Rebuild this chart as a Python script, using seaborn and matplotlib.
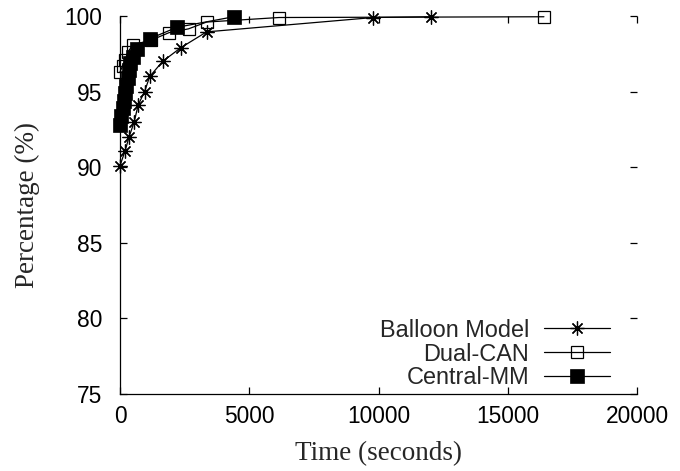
import matplotlib
matplotlib.use("Agg")
import matplotlib.pyplot as plt
import seaborn as sns
import pandas as pd

# Data
balloon_x = [0, 200, 350, 550, 700, 950, 1150, 1650, 2350, 3350, 9800, 12050]
balloon_y = [90.1, 91.1, 92.0, 93.0, 94.1, 95.0, 96.0, 97.0, 97.9, 98.95, 99.9, 99.95]

dualcan_x = [0, 100, 200, 300, 500, 1200, 1900, 2650, 3350, 6150, 16400]
dualcan_y = [96.3, 96.7, 97.1, 97.6, 98.1, 98.4, 98.9, 99.15, 99.6, 99.9, 99.95]

central_x = [0, 50, 100, 150, 200, 250, 300, 350, 400, 500, 650, 1150, 2200, 4400]
central_y = [92.8, 93.4, 93.9, 94.4, 94.9, 95.4, 95.9, 96.4, 96.9, 97.3, 97.8, 98.5, 99.25, 99.95]

series_names = ["Balloon Model", "Dual-CAN", "Central-MM"]
x_ticks = [0, 5000, 10000, 15000, 20000]
y_ticks = [75, 80, 85, 90, 95, 100]

sns.set_theme(style="ticks")
plt.rcParams["font.family"] = ["Liberation Sans", "DejaVu Sans"]

fig = plt.figure(figsize=(6.8, 4.71), dpi=100)
ax = fig.add_axes([120 / 680, 1 - 394 / 471, 517 / 680, 378 / 471])

common = dict(ax=ax, color="black", lw=0.9, sort=False, clip_on=False)
sns.lineplot(x=balloon_x, y=balloon_y, marker=(8, 2, 0), markersize=10,
             markeredgewidth=0.9, markeredgecolor="black",
             label=series_names[0], **common)
sns.lineplot(x=dualcan_x, y=dualcan_y, marker="s", markersize=9,
             markeredgewidth=0.9, markerfacecolor="none",
             markeredgecolor="black", label=series_names[1], **common)
sns.lineplot(x=central_x, y=central_y, marker="s", markersize=9.5,
             markeredgewidth=0.5, markerfacecolor="black",
             markeredgecolor="black", label=series_names[2], **common)

ax.set_xlim(0, 20000)
ax.set_ylim(75, 100)
ax.set_xticks(x_ticks)
ax.set_yticks(y_ticks)
ax.set_xticklabels([str(v) for v in x_ticks])
ax.set_yticklabels([str(v) for v in y_ticks])

for s in ["top", "right"]:
    ax.spines[s].set_visible(False)
for s in ["left", "bottom"]:
    ax.spines[s].set_linewidth(0.9)
    ax.spines[s].set_color("black")

ax.tick_params(direction="in", length=5, width=0.9, colors="black",
               top=True, right=True, labelsize=16.4, pad=8)
ax.tick_params(axis="y", pad=13)

ax.set_xlabel("Time (seconds)", family=["Liberation Serif", "DejaVu Serif"],
              fontsize=19.5, labelpad=9)
ax.set_ylabel("Percentage (%)", family=["Liberation Serif", "DejaVu Serif"],
              fontsize=19.5, labelpad=17)

leg = ax.legend(loc="lower right", bbox_to_anchor=(0.948, 0.012),
                frameon=False, markerfirst=False, fontsize=16.9,
                handlelength=2.8, handletextpad=0.65, labelspacing=0.04,
                borderaxespad=0, borderpad=0)
for t in leg.get_texts():
    t.set_ha("right")
leg._legend_box.align = "right"

fig.savefig("out.png", dpi=100)
